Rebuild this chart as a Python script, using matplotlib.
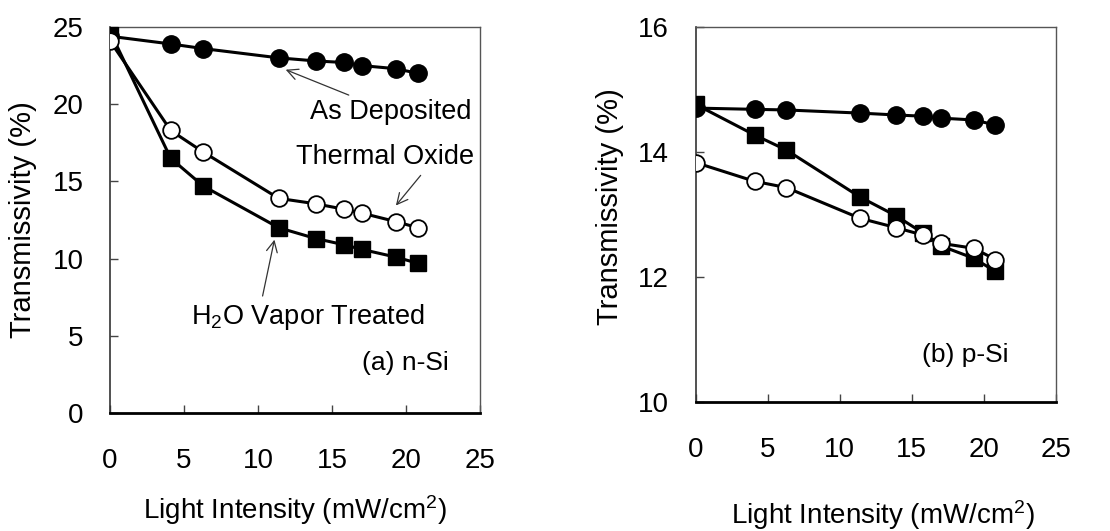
import matplotlib
matplotlib.use("Agg")
import matplotlib.pyplot as plt

plt.rcParams["font.family"] = ["Liberation Sans", "DejaVu Sans"]
plt.rcParams["mathtext.fontset"] = "custom"
plt.rcParams["mathtext.rm"] = "Liberation Sans"
plt.rcParams["mathtext.it"] = "Liberation Sans:italic"
plt.rcParams["mathtext.bf"] = "Liberation Sans:bold"

# light intensity (mW/cm2), same for every series
intensity = [0, 4.1, 6.3, 11.4, 13.9, 15.8, 17.0, 19.3, 20.8]

# (a) n-Si
n_as_dep = [24.4, 23.9, 23.6, 23.0, 22.8, 22.7, 22.5, 22.3, 22.0]
n_thermal = [24.1, 18.3, 16.9, 13.9, 13.55, 13.2, 12.95, 12.4, 12.0]
n_h2o = [24.7, 16.5, 14.7, 12.0, 11.3, 10.9, 10.6, 10.1, 9.7]

# (b) p-Si
p_as_dep = [14.70, 14.68, 14.67, 14.62, 14.59, 14.57, 14.54, 14.51, 14.43]
p_thermal = [13.83, 13.53, 13.43, 12.94, 12.79, 12.67, 12.54, 12.46, 12.28]
p_h2o = [14.76, 14.27, 14.03, 13.28, 12.98, 12.70, 12.50, 12.30, 12.09]

x_ticks = [0, 5, 10, 15, 20, 25]


def draw_series(ax, as_dep, thermal, h2o):
    ax.plot(intensity, as_dep, "-o", color="black", lw=2.2, ms=12.5,
            mfc="black", mec="black", zorder=3)
    ax.plot(intensity, h2o, "-s", color="black", lw=2.2, ms=12,
            mfc="black", mec="black", zorder=4)
    ax.plot(intensity, thermal, "-o", color="black", lw=2.2, ms=12,
            mfc="white", mec="black", mew=1.3, zorder=5)


def style_axes(ax, ylim, yticks):
    ax.set_xlim(0, 25)
    ax.set_ylim(*ylim)
    ax.set_xticks(x_ticks)
    ax.set_yticks(yticks)
    ax.tick_params(direction="in", length=6, width=1, labelsize=20,
                   color="#444444")
    ax.tick_params(axis="x", pad=25)
    ax.tick_params(axis="y", pad=19)
    for side in ["top", "right"]:
        ax.spines[side].set_color("#555555")
        ax.spines[side].set_linewidth(1)
    ax.spines["left"].set_color("#333333")
    ax.spines["left"].set_linewidth(1.2)
    ax.spines["bottom"].set_color("black")
    ax.spines["bottom"].set_linewidth(2)
    ax.set_xlabel("Light Intensity (mW/cm$^2$)", fontsize=20)
    ax.set_ylabel("Transmissivity (%)", fontsize=21)
    ax.xaxis.label.set_verticalalignment("center")
    ax.yaxis.label.set_verticalalignment("center")


fig = plt.figure(figsize=(11.1, 5.31), dpi=100)
ax1 = fig.add_axes([0.0991, 0.2222, 0.3333, 0.727])
ax2 = fig.add_axes([0.6266, 0.2424, 0.3248, 0.7073])

# (a) n-Si
draw_series(ax1, n_as_dep, n_thermal, n_h2o)
style_axes(ax1, (0, 25), [0, 5, 10, 15, 20, 25])
ax1.xaxis.set_label_coords(0.5, -0.251)
ax1.yaxis.set_label_coords(-0.235, 0.5)

arrow = dict(arrowstyle="->", color="#333333", lw=0.9)
ax1.annotate("As Deposited", xy=(11.7, 22.3), xytext=(13.5, 19.5),
             fontsize=19.5, va="center", ha="left", arrowprops=arrow)
ax1.annotate("Thermal Oxide", xy=(19.2, 13.3), xytext=(12.6, 16.55),
             fontsize=19.5, va="center", ha="left",
             arrowprops=dict(arrowstyle="->", color="#333333", lw=0.9,
                             relpos=(0.72, 0.0)))
ax1.annotate("H$_2$O Vapor Treated", xy=(11.15, 11.4), xytext=(5.5, 6.25),
             fontsize=19.5, va="center", ha="left",
             arrowprops=dict(arrowstyle="->", color="#333333", lw=0.9,
                             relpos=(0.3, 1.0)))
ax1.text(17.0, 3.25, "(a) n-Si", fontsize=19, va="center", ha="left")

# (b) p-Si
draw_series(ax2, p_as_dep, p_thermal, p_h2o)
style_axes(ax2, (10, 16), [10, 12, 14, 16])
ax2.xaxis.set_label_coords(0.52, -0.30)
ax2.yaxis.set_label_coords(-0.237, 0.52)
ax2.text(15.7, 10.76, "(b) p-Si", fontsize=19, va="center", ha="left")

fig.savefig("out.png", dpi=100)
